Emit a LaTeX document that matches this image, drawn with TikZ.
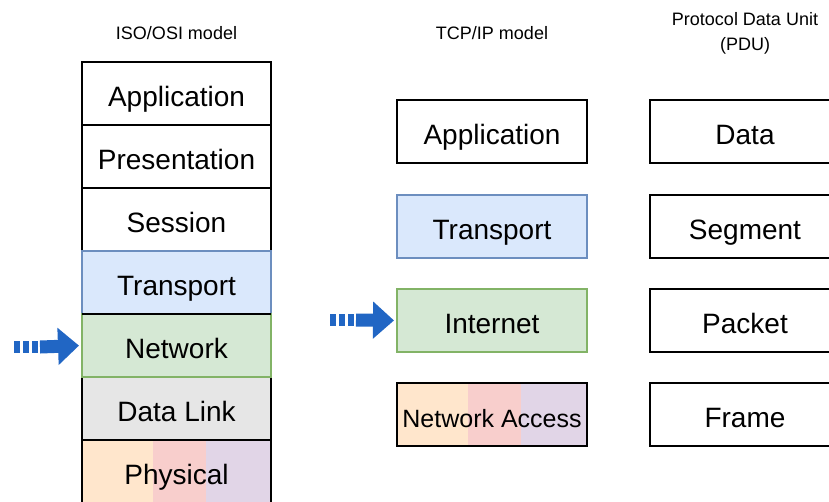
\documentclass[tikz,border=0pt]{standalone}
\usepackage{fontspec}
\setmainfont{Liberation Sans}
\usetikzlibrary{arrows.meta,positioning}
\definecolor{bluefill}{HTML}{DAE8FC}
\definecolor{blueline}{HTML}{6C8EBF}
\definecolor{greenfill}{HTML}{D5E8D4}
\definecolor{greenline}{HTML}{82B366}
\definecolor{grayfill}{HTML}{E6E6E6}
\definecolor{orangefill}{HTML}{FFE6CC}
\definecolor{redfill}{HTML}{F8CECC}
\definecolor{purplefill}{HTML}{E1D5E7}
\definecolor{arrowblue}{HTML}{2166C4}
\tikzset{
  layer/.style={draw=black,line width=1.5pt,minimum width=189pt,minimum height=63pt,
    inner sep=0pt,outer sep=0pt,text height=26pt,text depth=1pt,font=\fontsize{28}{30}\selectfont},
  heading/.style={font=\fontsize{18}{25}\selectfont,align=center},
  tricolor/.style={path picture={
    \fill[orangefill] (path picture bounding box.south west) rectangle ([xshift=71pt]path picture bounding box.north west);
    \fill[redfill] ([xshift=71pt]path picture bounding box.south west) rectangle ([xshift=124pt]path picture bounding box.north west);
    \fill[purplefill] ([xshift=124pt]path picture bounding box.south west) rectangle (path picture bounding box.north east);}},
  arrowdash/.style={arrowblue,line width=12pt,dash pattern=on 6pt off 3pt},
  arrowbody/.style={arrowblue,line width=13pt,shorten >=3pt,-{Triangle[length=21pt,width=36pt]}}
}
\begin{document}
\begin{tikzpicture}[x=1pt,y=-1pt,node distance=0pt]
\clip (0,0) rectangle (829,501);
% ISO/OSI column
\node[heading] (osihead) at (176.5,33) {ISO/OSI model};
\node[layer] (oapp) at (176.5,93.5) {Application};
\node[layer,below=of oapp] (opres) {Presentation};
\node[layer,below=of opres] (osess) {Session};
\node[layer,below=of osess,fill=bluefill] (otrans) {Transport};
\node[layer,below=of otrans,fill=greenfill] (onet) {Network};
\node[layer,below=of onet,fill=grayfill] (olink) {Data Link};
\node[layer,below=of olink,tricolor] (ophys) {Physical};
% redraw coloured borders on top
\draw[blueline,line width=1.5pt] (otrans.south west) rectangle (otrans.north east);
\draw[greenline,line width=1.5pt] (onet.south west) rectangle (onet.north east);
\draw[black,line width=1.5pt] (onet.north west) -- (onet.north east);
% TCP/IP column
\node[heading] (tcphead) at (492,33) {TCP/IP model};
\node[layer,minimum width=190pt] (tapp) at (492,131.5) {Application};
\node[layer,minimum width=190pt,below=32pt of tapp,fill=bluefill,draw=blueline] (ttrans) {Transport};
\node[layer,minimum width=190pt,below=31pt of ttrans,fill=greenfill,draw=greenline] (tinet) {Internet};
\node[layer,minimum width=190pt,below=31pt of tinet,tricolor,font=\fontsize{25}{27}\selectfont] (tacc) {Network Access};
% PDU column
\node[heading] (pduhead) at (745,33) {Protocol Data Unit\\(PDU)};
\node[layer,minimum width=190pt] (pdata) at (745,131.5) {Data};
\node[layer,minimum width=190pt,below=32pt of pdata] (pseg) {Segment};
\node[layer,minimum width=190pt,below=31pt of pseg] (ppack) {Packet};
\node[layer,minimum width=190pt,below=31pt of ppack] (pframe) {Frame};
% arrows
\coordinate (oarrow) at (14,347);
\coordinate (tarrow) at (330,320);
\draw[arrowdash] (oarrow) -- ++(24,0);
\draw[arrowbody] ([xshift=26pt]oarrow) -- (onet.west);
\draw[arrowdash] (tarrow) -- ++(24,0);
\draw[arrowbody] ([xshift=26pt]tarrow) -- (tinet.west);
\end{tikzpicture}
\end{document}
